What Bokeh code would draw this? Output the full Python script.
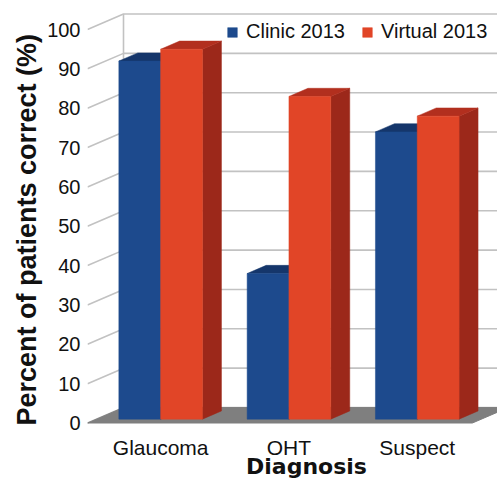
from bokeh.plotting import figure
from bokeh.models import (ColumnDataSource, FixedTicker, Legend, LegendItem,
                          Title, Range1d)
from bokeh.core.properties import value
from bokeh.embed import file_html
from bokeh.resources import INLINE

# ---------------- data ----------------
categories = ["Glaucoma", "OHT", "Suspect"]
clinic_2013 = [91, 37, 73]
virtual_2013 = [94, 82, 77]
series_names = ["Clinic 2013", "Virtual 2013"]
y_ticks = [0, 10, 20, 30, 40, 50, 60, 70, 80, 90, 100]
x_title = "Diagnosis"
y_title = "Percent of patients correct (%)"

# ---------------- geometry / style ----------------
FONT = "Liberation Sans"
W, H = 497, 478
LEFT = 87            # frame left border (px) = front wall
ZERO_PX = 422.5      # canvas y of value 0 on the front plane
PX_X = 128.3         # px per category
PX_Y = 3.935         # px per percent
SLOPE = 0.43         # depth: vertical px per horizontal px

frame_w = W - LEFT
x_range = Range1d(0, frame_w / PX_X)
y_range = Range1d(-(H - ZERO_PX) / PX_Y, ZERO_PX / PX_Y)

DX = 36 / PX_X                    # full depth of chart box
DY = 36 * SLOPE / PX_Y
FXp, BXp = 9, 28                  # bar front/back depth offsets (px)
FX, FY = FXp / PX_X, FXp * SLOPE / PX_Y
BX, BY = BXp / PX_X, BXp * SLOPE / PX_Y
BW = 41.8 / PX_X                  # bar width

GRID = "#c2c2c2"
BLUE, BLUE_TOP, BLUE_SIDE = "#1d4a8d", "#15366b", "#122f5e"
RED, RED_TOP, RED_SIDE = "#e14527", "#b22f1e", "#9c281a"
TXT = "#111111"

p = figure(width=W, height=H, x_range=x_range, y_range=y_range,
           output_backend="svg", toolbar_location=None,
           x_axis_location=None,
           min_border_left=LEFT, min_border_right=0,
           min_border_top=0, min_border_bottom=0)
p.outline_line_color = None
p.xgrid.visible = False
p.ygrid.visible = False
p.background_fill_color = "white"
p.border_fill_color = "white"

# y axis on front plane
ax = p.yaxis[0]
ax.ticker = FixedTicker(ticks=y_ticks)
ax.axis_line_color = None
ax.major_tick_line_color = None
ax.minor_tick_line_color = None
ax.major_tick_out = 0
ax.major_tick_in = 0
ax.minor_tick_out = 0
ax.minor_tick_in = 0
ax.major_label_standoff = 7
ax.major_label_text_font = FONT
ax.major_label_text_font_size = "20px"
ax.major_label_text_color = TXT

# y title
p.add_layout(Title(text=y_title, align="left", offset=53,
                   text_font=FONT, text_font_size="27px",
                   text_font_style="bold", text_color=TXT,
                   standoff=6), "left")

# ---- back grid: diagonal on side wall, then horizontal on back wall
x_far = x_range.end + 1
gxs = [[0, DX, x_far] for v in y_ticks]
gys = [[v, v + DY, v + DY] for v in y_ticks]
p.multi_line(gxs, gys, line_color=GRID, line_width=1.6)
p.segment(x0=[DX], y0=[DY], x1=[DX], y1=[y_ticks[-1] + DY],
          line_color=GRID, line_width=1.6)

# ---- floor
n = len(categories)
p.patch([0, n, n + DX, DX], [0, 0, DY, DY], fill_color="#7f7f7f",
        line_color="#7f7f7f")

centers = [i + 0.5 for i in range(n)]


def bar_faces(lefts, vals):
    tops_x, tops_y, sides_x, sides_y = [], [], [], []
    dbx, dby = BX - FX, BY - FY
    for l, v in zip(lefts, vals):
        r = l + BW
        tops_x.append([l, r, r + dbx, l + dbx])
        tops_y.append([FY + v, FY + v, FY + v + dby, FY + v + dby])
        sides_x.append([r, r + dbx, r + dbx, r])
        sides_y.append([FY, FY + dby, FY + v + dby, FY + v])
    return tops_x, tops_y, sides_x, sides_y


renderers = []
for vals, front, top, side, off in [
        (clinic_2013, BLUE, BLUE_TOP, BLUE_SIDE, -BW),
        (virtual_2013, RED, RED_TOP, RED_SIDE, 0.0)]:
    lefts = [c + FX + off for c in centers]
    tx, ty, sx, sy = bar_faces(lefts, vals)
    p.patches(sx, sy, fill_color=side, line_color=side, line_width=0.5)
    p.patches(tx, ty, fill_color=top, line_color=top, line_width=0.5)
    src = ColumnDataSource(dict(left=lefts, right=[l + BW for l in lefts],
                                bottom=[FY] * n, top=[FY + v for v in vals]))
    r = p.quad(left="left", right="right", bottom="bottom", top="top",
               source=src, fill_color=front, line_color=front, line_width=0.5)
    renderers.append(r)

# ---- category labels and x title (front plane, below floor)
lab_src = ColumnDataSource(dict(x=[c + FX for c in centers],
                                y=[-24.5 / PX_Y] * n, text=categories))
p.text(x="x", y="y", text="text", source=lab_src, text_align="center",
       text_baseline="alphabetic", text_font=value(FONT),
       text_font_size="21px", text_color=TXT)
p.text(x=[(306 - 87) / PX_X], y=[-43.5 / PX_Y], text=[x_title],
       text_align="center", text_baseline="alphabetic",
       text_font=value("DejaVu Sans"), text_font_size="22px",
       text_font_style="bold", text_color=TXT)

# ---- legend
legend = Legend(items=[LegendItem(label=series_names[0], renderers=[renderers[0]]),
                       LegendItem(label=series_names[1], renderers=[renderers[1]])],
                orientation="horizontal", location=(139, 435),
                glyph_width=12, glyph_height=12, label_standoff=8, spacing=16,
                padding=0, margin=0, border_line_alpha=0,
                background_fill_alpha=0,
                label_text_font=FONT, label_text_font_size="20px",
                label_text_color=TXT)
p.add_layout(legend)

open("out.html", "w").write(file_html(p, INLINE))
